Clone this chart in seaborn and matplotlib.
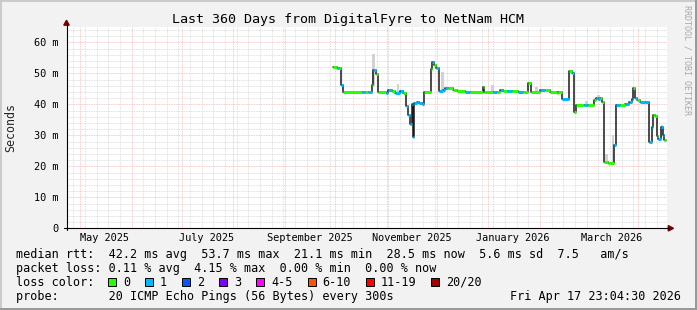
import numpy as np
import pandas as pd
import matplotlib
matplotlib.use("Agg")
import matplotlib.pyplot as plt
import matplotlib.dates as mdates
import matplotlib.ticker as mticker
from matplotlib.patches import Rectangle, Polygon
from matplotlib.lines import Line2D
import seaborn as sns

# ---------------- data ----------------
title = "Last 360 Days from DigitalFyre to NetNam HCM"
window_start = "2025-04-22 23:04:30"
window_end = "2026-04-17 23:04:30"

seg_time = [
    "2025-09-30 01:00", "2025-10-02 01:00", "2025-10-03 11:00", "2025-10-04 11:00",
    "2025-10-06 01:00", "2025-10-17 01:00", "2025-10-19 01:00", "2025-10-21 01:00",
    "2025-10-23 01:00", "2025-10-24 01:00", "2025-10-25 11:00", "2025-10-27 01:00",
    "2025-10-31 16:00", "2025-11-02 01:00", "2025-11-04 01:00", "2025-11-06 01:00",
    "2025-11-09 01:00", "2025-11-11 01:00", "2025-11-12 16:00", "2025-11-14 01:00",
    "2025-11-15 01:00", "2025-11-16 01:00", "2025-11-17 01:00", "2025-11-17 16:00",
    "2025-11-19 01:00", "2025-11-20 11:00", "2025-11-22 01:00", "2025-11-23 16:00",
    "2025-11-27 16:00", "2025-11-28 11:00", "2025-11-29 16:00", "2025-11-30 11:00",
    "2025-12-02 16:00", "2025-12-05 01:00", "2025-12-06 01:00", "2025-12-08 01:00",
    "2025-12-11 01:00", "2025-12-13 01:00", "2025-12-18 01:00", "2025-12-21 01:00",
    "2025-12-28 16:00", "2025-12-29 16:00", "2026-01-04 01:00", "2026-01-06 01:00",
    "2026-01-08 01:00", "2026-01-10 01:00", "2026-01-12 01:00", "2026-01-15 01:00",
    "2026-01-19 01:00", "2026-01-22 01:00", "2026-01-25 01:00", "2026-01-26 11:00",
    "2026-02-01 01:00", "2026-02-04 01:00", "2026-02-07 01:00", "2026-02-11 01:00",
    "2026-02-12 01:00", "2026-02-14 11:00", "2026-02-18 11:00", "2026-02-20 01:00",
    "2026-02-21 11:00", "2026-02-22 11:00", "2026-02-27 16:00", "2026-03-02 01:00",
    "2026-03-05 16:00", "2026-03-06 11:00", "2026-03-08 01:00", "2026-03-09 01:00",
    "2026-03-10 01:00", "2026-03-11 16:00", "2026-03-14 01:00", "2026-03-17 16:00",
    "2026-03-18 16:00", "2026-03-21 01:00", "2026-03-24 01:00", "2026-03-26 11:00",
    "2026-03-28 11:00", "2026-03-29 01:00", "2026-03-30 01:00", "2026-03-31 01:00",
    "2026-04-02 01:00", "2026-04-05 01:00", "2026-04-07 16:00", "2026-04-09 01:00",
    "2026-04-10 01:00", "2026-04-11 01:00", "2026-04-12 01:00", "2026-04-13 01:00",
    "2026-04-14 16:00", "2026-04-15 16:00", "2026-04-16 16:00",
]
seg_end = "2026-04-17 16:00"
median_ms = [
    51.9, 51.7, 51.7, 46.3,
    44.1, 44.1, 44.1, 44.1,
    46.1, 51.2, 49.9, 44.1,
    43.8, 44.6, 44.3, 43.8,
    44.3, 43.8, 39.4, 36.7,
    33.5, 40.2, 29.4, 40.5,
    40.7, 40.3, 40.0, 44.0,
    51.3, 53.7, 52.6, 51.7,
    44.3, 44.7, 45.1, 45.1,
    44.7, 44.3, 44.0, 44.0,
    45.6, 44.0, 44.0, 44.0,
    44.7, 44.3, 44.3, 44.3,
    44.0, 44.0, 46.8, 44.0,
    44.5, 44.5, 44.0, 43.7,
    44.0, 41.8, 50.6, 50.1,
    37.5, 39.7, 39.7, 39.7,
    41.3, 42.1, 41.6, 42.0,
    40.9, 21.4, 21.1, 26.8,
    39.7, 39.7, 40.2, 40.7,
    41.8, 45.4, 42.0, 41.3,
    40.9, 40.7, 27.8, 32.7,
    36.6, 36.2, 29.8, 28.9,
    32.7, 30.0, 28.5,
]
loss_bucket = [
    0, 1, 0, 1,
    0, 1, 0, 1,
    0, 1, 0, 0,
    1, 1, 0, 1,
    1, 0, 1, 1,
    1, 1, 1, 1,
    1, 1, 1, 0,
    0, 1, 0, 1,
    1, 1, 1, 0,
    0, 0, 1, 0,
    0, 0, 1, 0,
    1, 0, 1, 0,
    1, 0, 0, 0,
    1, 0, 0, 0,
    0, 1, 0, 1,
    0, 0, 1, 0,
    0, 1, 1, 0,
    0, 0, 0, 1,
    1, 0, 1, 1,
    1, 0, 1, 0,
    1, 1, 1, 1,
    0, 0, 0, 1,
    1, 1, 0,
]

smoke_time = ["2025-10-24 04:00", "2025-11-07 20:00", "2025-12-04 11:00", "2026-01-03 13:00",
              "2026-01-29 23:00", "2026-03-01 00:00", "2026-03-08 00:00", "2026-03-12 20:00",
              "2026-03-16 20:00", "2026-04-15 06:00"]
smoke_lo = [46.0, 44.0, 44.3, 44.0, 44.0, 39.7, 41.6, 21.4, 21.1, 29.4]
smoke_hi = [56.3, 46.4, 50.3, 46.3, 45.6, 41.2, 43.1, 24.1, 30.2, 33.2]

loss_labels = ["0", "1", "2", "3", "4-5", "6-10", "11-19", "20/20"]
loss_colors = ["#26ff00", "#00b8ff", "#0059ff", "#7e00ff", "#ff00ff", "#ff5500", "#ff0000", "#a10000"]

y_ticks = [0, 10, 20, 30, 40, 50, 60]
y_tick_labels = ["0", "10 m", "20 m", "30 m", "40 m", "50 m", "60 m"]
month_labels = ["May 2025", "July 2025", "September 2025", "November 2025", "January 2026", "March 2026"]
month_label_at = ["2025-05-16", "2025-07-16", "2025-09-16", "2025-11-16", "2026-01-16", "2026-03-16"]

legend_lines = [
    "median rtt:  42.2 ms avg  53.7 ms max  21.1 ms min  28.5 ms now  5.6 ms sd  7.5   am/s",
    "packet loss: 0.11 % avg  4.15 % max  0.00 % min  0.00 % now",
    "loss color:",
    "probe:       20 ICMP Echo Pings (56 Bytes) every 300s",
]
stamp = "Fri Apr 17 23:04:30 2026"
y_label = "Seconds"
watermark = "RRDTOOL / TOBI OETIKER"

# ---------------- figure ----------------
W, H = 697, 310
sns.set_theme(style="white")
plt.rcParams["font.family"] = ["DejaVu Sans Mono", "DejaVu Sans"]

fig = plt.figure(figsize=(W / 100, H / 100), dpi=100, facecolor="#f2f2f2")

def fx(x):
    return x / W

def fy(y):
    return 1 - y / H

L, R, T, B = 66.5, 666.5, 27.0, 228.3
ax = fig.add_axes([fx(L), fy(B), (R - L) / W, (B - T) / H])
ax.set_facecolor("white")

t0 = mdates.date2num(pd.Timestamp(window_start))
t1 = mdates.date2num(pd.Timestamp(window_end))
ax.set_xlim(t0, t1)
ax.set_ylim(0, (B - T) / 3.1)

# grid
ax.xaxis.set_major_locator(mdates.MonthLocator())
ax.xaxis.set_minor_locator(mdates.WeekdayLocator(byweekday=mdates.SU))
ax.yaxis.set_major_locator(mticker.FixedLocator(y_ticks))
ax.yaxis.set_minor_locator(mticker.MultipleLocator(2))
ax.grid(which="minor", color="#d6d6d6", linestyle=(0, (1, 1)), linewidth=0.6, zorder=0)
ax.grid(which="major", color="#f6b4b4", linestyle=(0, (1, 1)), linewidth=0.6, zorder=0.5)
ax.set_axisbelow(True)
for s in ax.spines.values():
    s.set_visible(False)

ax.set_yticks(y_ticks, y_tick_labels)
ax.set_xticklabels([])
ax.tick_params(axis="y", which="major", labelsize=7.35, pad=4.5, length=3, direction="inout",
               color="black", width=0.7, labelcolor="black")
ax.tick_params(axis="y", which="minor", length=2, direction="inout", color="black", width=0.7)
ax.tick_params(axis="x", which="both", length=2, direction="inout", color="black", width=0.7)

# smoke
sx = mdates.date2num(pd.to_datetime(smoke_time))
ax.bar(sx, np.array(smoke_hi) - np.array(smoke_lo), bottom=smoke_lo, width=1.6,
       color="#d2d2d2", linewidth=0, zorder=1)

# median line (dark step) via seaborn
tx = mdates.date2num(pd.to_datetime(seg_time + [seg_end]))
df = pd.DataFrame({"t": tx, "rtt": median_ms + [median_ms[-1]]})
sns.lineplot(data=df, x="t", y="rtt", drawstyle="steps-post", color="#1a1a1a",
             linewidth=1.1, ax=ax, zorder=3)
ax.set_xlabel("")
ax.set_ylabel("")

# loss-coloured median segments
seg_colors = [loss_colors[b] for b in loss_bucket]
ax.hlines(median_ms, tx[:-1], tx[1:], colors=seg_colors, linewidth=2.2, zorder=4)

# month labels
for lab, d in zip(month_labels, month_label_at):
    ax.text(mdates.date2num(pd.Timestamp(d)), -(238.0 - B) / (B - T), lab,
            transform=ax.get_xaxis_transform(), ha="center", va="center",
            fontsize=7.35, color="black")

# axes lines + arrows
fig.add_artist(Line2D([fx(L), fx(L)], [fy(B + 2), fy(23)], color="black", lw=0.8))
fig.add_artist(Line2D([fx(L - 3), fx(669)], [fy(B), fy(B)], color="black", lw=0.8))
fig.add_artist(Polygon([[fx(L - 2.7), fy(25.2)], [fx(L + 2.7), fy(25.2)], [fx(L), fy(20.3)]],
                       closed=True, color="#7a0000", transform=fig.transFigure))
fig.add_artist(Polygon([[fx(668.3), fy(B - 2.7)], [fx(668.3), fy(B + 2.7)], [fx(673.5), fy(B)]],
                       closed=True, color="#7a0000", transform=fig.transFigure))

# titles
fig.text(fx(348.5), fy(19.0), title, ha="center", va="center", fontsize=9.6, color="black")
fig.text(fx(10.5), fy(127.5), y_label, ha="center", va="center", rotation=90, fontsize=8.4)
fig.text(fx(687), fy(60), watermark, ha="center", va="center", rotation=-90,
         fontsize=6.0, color="#a8a8a8")

# legend text
line_y = [254.5, 268.3, 282.3, 296.3]
for txt, yy in zip(legend_lines, line_y):
    fig.text(fx(16.4), fy(yy), txt, ha="left", va="center", fontsize=8.5, color="black")
fig.text(fx(680.5), fy(line_y[3]), stamp, ha="right", va="center", fontsize=8.5, color="black")

cw = 7.09
bx = 108.0
for lab, col in zip(loss_labels, loss_colors):
    fig.add_artist(Rectangle((fx(bx), fy(line_y[2] + 4)), 8 / W, 8 / H, facecolor=col,
                             edgecolor="black", linewidth=0.7, transform=fig.transFigure))
    fig.text(fx(bx + 15), fy(line_y[2]), lab, ha="left", va="center", fontsize=8.5, color="black")
    bx += 15 + cw * len(lab) + 15

# 3D frame
fig.add_artist(Rectangle((0, fy(2)), 1, 2 / H, color="#cbcbcb", transform=fig.transFigure, lw=0))
fig.add_artist(Rectangle((0, 0), 2 / W, 1, color="#cbcbcb", transform=fig.transFigure, lw=0))
fig.add_artist(Rectangle((0, 0), 1, 2 / H, color="#999999", transform=fig.transFigure, lw=0))
fig.add_artist(Rectangle((fx(W - 2), 0), 2 / W, 1, color="#999999", transform=fig.transFigure, lw=0))

fig.savefig("out.png", dpi=100, facecolor=fig.get_facecolor())
